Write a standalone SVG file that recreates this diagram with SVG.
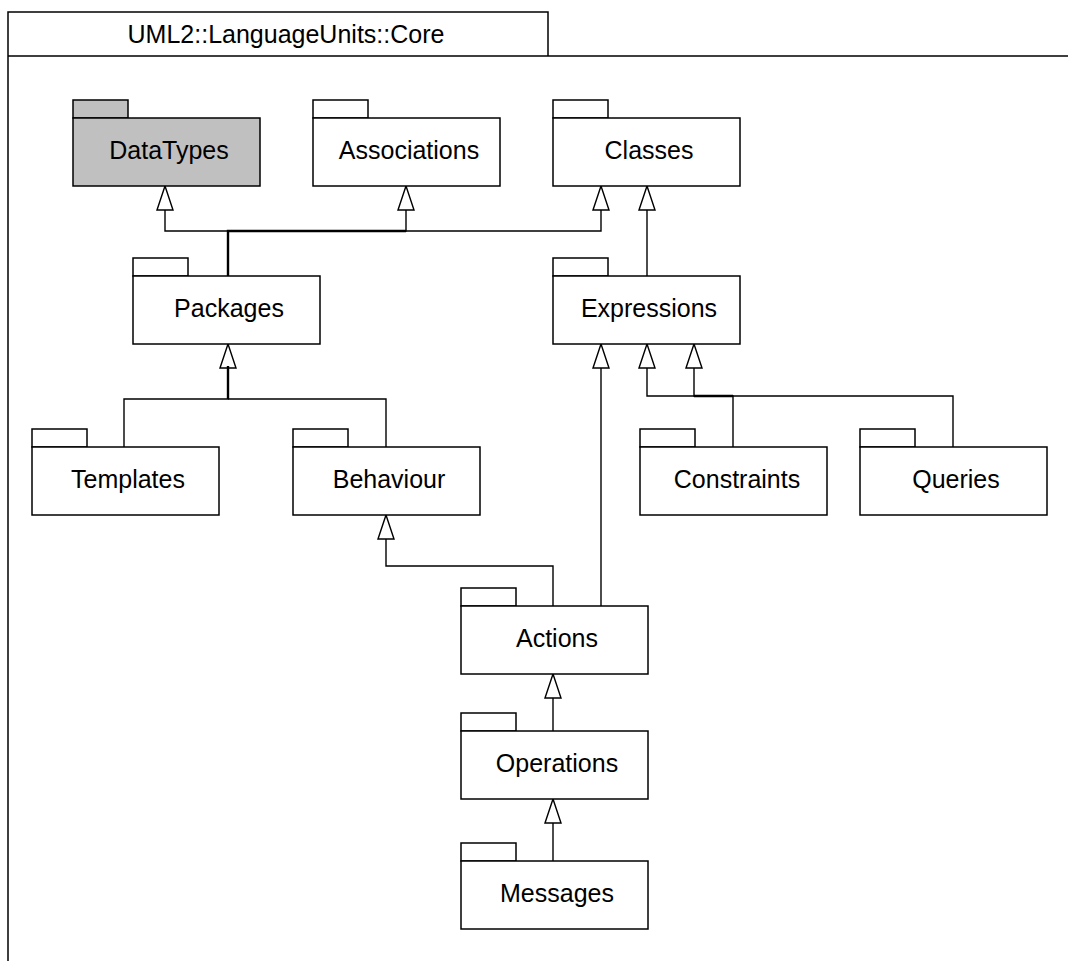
<svg xmlns="http://www.w3.org/2000/svg" width="1068" height="961" viewBox="0 0 1068 961">
<style>
.frame{fill:none;stroke:#000;stroke-width:1.5}
.pkg rect{fill:#fff;stroke:#000;stroke-width:1.5}
.pkg.grey rect{fill:#c0c0c0}
.pkg text,.title{font-family:"Liberation Sans",Arial,sans-serif;font-size:25px;fill:#000;text-anchor:middle}
.conn path{fill:none;stroke:#000;stroke-width:1.4}
.conn path.bold{stroke-width:2.4}
</style>
<defs>
<marker id="gen" viewBox="0 0 24 17" refX="24" refY="8.5" markerWidth="24" markerHeight="17" markerUnits="userSpaceOnUse" orient="auto" overflow="visible">
<path d="M0,0.5 L24,8.5 L0,16.5 Z" fill="#fff" stroke="#000" stroke-width="1.4"/>
</marker>
</defs>
<rect width="1068" height="961" fill="#fff"/>
<g id="frame">
<path class="frame" d="M8,980 V12 H548 V56 M8,56 H1080"/>
<text class="title" x="286" y="43">UML2::LanguageUnits::Core</text>
</g>
<g id="connectors" class="conn">
<path d="M228,276 V231 H165 V186" marker-end="url(#gen)"/>
<path d="M228,231 H406 V186" marker-end="url(#gen)"/>
<path d="M406,231 H601 V186" marker-end="url(#gen)"/>
<path class="bold" d="M228,276 V231 H406"/>
<path d="M647,276 V186" marker-end="url(#gen)"/>
<path d="M124,447 V399 H228 V344" marker-end="url(#gen)"/>
<path d="M386,447 V399 H228"/>
<path class="bold" d="M228,399 V366"/>
<path d="M553,606 V566 H386 V515" marker-end="url(#gen)"/>
<path d="M601,606 V344" marker-end="url(#gen)"/>
<path d="M733,447 V396 H694 V344" marker-end="url(#gen)"/>
<path d="M953,447 V396 H647 V344" marker-end="url(#gen)"/>
<path class="bold" d="M694,396 H733"/>
<path d="M553,731 V674" marker-end="url(#gen)"/>
<path d="M553,861 V799" marker-end="url(#gen)"/>
</g>
<g id="DataTypes" class="pkg grey"><rect x="73" y="100" width="55" height="18"/><rect x="73" y="118" width="187" height="68"/><text x="169" y="158.5">DataTypes</text></g>
<g id="Associations" class="pkg"><rect x="313" y="100" width="55" height="18"/><rect x="313" y="118" width="187" height="68"/><text x="409" y="158.5">Associations</text></g>
<g id="Classes" class="pkg"><rect x="553" y="100" width="55" height="18"/><rect x="553" y="118" width="187" height="68"/><text x="649" y="158.5">Classes</text></g>
<g id="Packages" class="pkg"><rect x="133" y="258" width="55" height="18"/><rect x="133" y="276" width="187" height="68"/><text x="229" y="316.5">Packages</text></g>
<g id="Expressions" class="pkg"><rect x="553" y="258" width="55" height="18"/><rect x="553" y="276" width="187" height="68"/><text x="649" y="316.5">Expressions</text></g>
<g id="Templates" class="pkg"><rect x="32" y="429" width="55" height="18"/><rect x="32" y="447" width="187" height="68"/><text x="128" y="487.5">Templates</text></g>
<g id="Behaviour" class="pkg"><rect x="293" y="429" width="55" height="18"/><rect x="293" y="447" width="187" height="68"/><text x="389" y="487.5">Behaviour</text></g>
<g id="Constraints" class="pkg"><rect x="640" y="429" width="55" height="18"/><rect x="640" y="447" width="187" height="68"/><text x="737" y="487.5">Constraints</text></g>
<g id="Queries" class="pkg"><rect x="860" y="429" width="55" height="18"/><rect x="860" y="447" width="187" height="68"/><text x="956" y="487.5">Queries</text></g>
<g id="Actions" class="pkg"><rect x="461" y="588" width="55" height="18"/><rect x="461" y="606" width="187" height="68"/><text x="557" y="646.5">Actions</text></g>
<g id="Operations" class="pkg"><rect x="461" y="713" width="55" height="18"/><rect x="461" y="731" width="187" height="68"/><text x="557" y="771.5">Operations</text></g>
<g id="Messages" class="pkg"><rect x="461" y="843" width="55" height="18"/><rect x="461" y="861" width="187" height="68"/><text x="557" y="901.5">Messages</text></g>
</svg>
